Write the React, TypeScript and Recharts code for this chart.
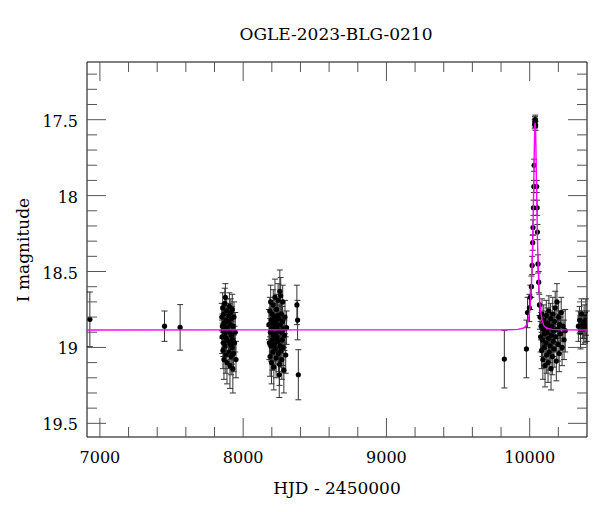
import React from 'react';
import { ScatterChart, Scatter, XAxis, YAxis, ErrorBar } from 'recharts';

// [HJD - 2450000, I mag, error]
type Obs = [number, number, number];

const season2014: Obs[] = [[6930, 18.815, 0.18]];

const season2016: Obs[] = [
  [7451, 18.86, 0.1],
  [7560, 18.868, 0.15],
];

const season2017: Obs[] = [
  [7851, 18.8, 0.09], [7853, 18.93, 0.11], [7855, 18.86, 0.08], [7857, 18.74, 0.1],
  [7859, 19.02, 0.12], [7861, 18.89, 0.08], [7862, 18.97, 0.09], [7864, 18.78, 0.07],
  [7866, 19.08, 0.13], [7868, 18.84, 0.08], [7870, 18.91, 0.09], [7872, 18.71, 0.1],
  [7874, 18.99, 0.1], [7876, 18.67, 0.09], [7877, 18.88, 0.08], [7879, 19.05, 0.12],
  [7881, 18.82, 0.08], [7883, 18.94, 0.09], [7885, 18.76, 0.08], [7887, 19.1, 0.14],
  [7889, 18.87, 0.07], [7896, 18.83, 0.09], [7898, 18.96, 0.1], [7900, 18.79, 0.08],
  [7902, 19.03, 0.11], [7904, 18.73, 0.09], [7906, 18.9, 0.08], [7908, 19.12, 0.15],
  [7910, 18.85, 0.08], [7912, 18.98, 0.1], [7914, 18.77, 0.09], [7916, 19.06, 0.12],
  [7918, 18.92, 0.09], [7920, 18.81, 0.08], [7922, 19.0, 0.11], [7924, 18.75, 0.1],
  [7926, 18.95, 0.09], [7928, 19.14, 0.16], [7930, 18.86, 0.08], [7933, 19.04, 0.12],
  [7936, 18.8, 0.1], [7940, 18.97, 0.11], [7945, 18.9, 0.13], [7950, 19.08, 0.12],
];

const season2018: Obs[] = [
  [8180, 18.85, 0.1], [8183, 18.97, 0.11], [8186, 18.76, 0.09], [8188, 19.06, 0.13],
  [8190, 18.9, 0.09], [8192, 18.7, 0.11], [8194, 18.99, 0.1], [8196, 18.82, 0.08],
  [8198, 19.1, 0.14], [8200, 18.88, 0.09], [8202, 18.78, 0.09], [8204, 18.95, 0.1],
  [8206, 19.03, 0.12], [8208, 18.84, 0.08], [8210, 18.72, 0.1], [8212, 18.92, 0.09],
  [8214, 19.13, 0.15], [8216, 18.8, 0.09], [8218, 18.98, 0.11], [8220, 18.87, 0.08],
  [8222, 18.67, 0.12], [8224, 19.01, 0.1], [8226, 18.91, 0.09], [8228, 18.83, 0.08],
  [8230, 19.07, 0.13], [8232, 18.75, 0.1], [8234, 18.94, 0.09], [8236, 18.86, 0.08],
  [8238, 18.93, 0.1], [8240, 18.79, 0.09], [8242, 18.96, 0.1], [8244, 18.69, 0.11],
  [8246, 19.04, 0.12], [8248, 18.89, 0.08], [8250, 18.81, 0.09], [8252, 19.18, 0.15],
  [8254, 19.11, 0.14], [8256, 18.63, 0.14], [8258, 18.99, 0.1], [8260, 18.85, 0.09],
  [8262, 18.66, 0.12], [8264, 19.02, 0.11], [8266, 18.9, 0.08], [8268, 18.78, 0.09],
  [8270, 19.08, 0.13], [8272, 18.95, 0.09], [8274, 18.83, 0.1], [8276, 18.7, 0.11],
  [8278, 19.0, 0.12], [8280, 18.88, 0.09], [8284, 19.15, 0.15], [8288, 18.92, 0.1],
  [8292, 18.8, 0.11], [8297, 19.05, 0.12], [8303, 18.87, 0.11],
  [8375, 18.72, 0.13], [8380, 18.82, 0.13], [8385, 19.18, 0.165],
];

const season2022: Obs[] = [[9823, 19.077, 0.19]];

const season2023: Obs[] = [
  [9977, 19.01, 0.19], [9985, 18.77, 0.1], [9998, 18.74, 0.09], [10004, 18.67, 0.08],
  [10012, 18.6, 0.07], [10017, 18.46, 0.06], [10021, 18.31, 0.05], [10023, 18.21, 0.05],
  [10026, 18.08, 0.05], [10029, 17.94, 0.04], [10031, 17.8, 0.04],
  [10035, 17.53, 0.03], [10037, 17.51, 0.03], [10038, 17.52, 0.03], [10039, 17.5, 0.03],
  [10041, 17.54, 0.03],
  [10049, 17.94, 0.04], [10052, 18.08, 0.05], [10054, 18.24, 0.05], [10058, 18.45, 0.06],
  [10063, 18.57, 0.07], [10068, 18.72, 0.07], [10072, 18.8, 0.08], [10076, 18.93, 0.1],
  [10080, 18.86, 0.09], [10083, 19.02, 0.12], [10086, 18.78, 0.1], [10089, 18.95, 0.11],
  [10092, 19.08, 0.13], [10095, 18.88, 0.09], [10098, 18.82, 0.1], [10101, 19.0, 0.12],
  [10104, 18.91, 0.1], [10107, 19.12, 0.14], [10110, 18.85, 0.09], [10113, 18.97, 0.11],
  [10116, 18.79, 0.1], [10119, 19.05, 0.12], [10122, 18.9, 0.09], [10125, 18.84, 0.1],
  [10128, 19.1, 0.13], [10131, 18.94, 0.11], [10134, 18.76, 0.1], [10137, 19.03, 0.12],
  [10140, 18.87, 0.09], [10143, 18.99, 0.11], [10146, 18.81, 0.1], [10149, 19.14, 0.14],
  [10152, 18.92, 0.1], [10155, 18.86, 0.09], [10158, 19.06, 0.12], [10161, 18.78, 0.11],
  [10164, 18.96, 0.1], [10167, 18.89, 0.09], [10170, 19.01, 0.12], [10174, 18.83, 0.1],
  [10178, 18.74, 0.11], [10182, 18.93, 0.1], [10186, 19.09, 0.13], [10190, 18.7, 0.12],
  [10194, 18.88, 0.1], [10198, 18.98, 0.11], [10202, 18.8, 0.1], [10206, 19.04, 0.12],
  [10210, 18.85, 0.09], [10215, 18.91, 0.11], [10220, 18.77, 0.1], [10226, 19.0, 0.12],
  [10232, 18.86, 0.1], [10240, 18.95, 0.13], [10248, 18.89, 0.14],
  [10340, 18.86, 0.1], [10348, 18.82, 0.09], [10355, 18.9, 0.11], [10362, 18.78, 0.1],
  [10368, 18.85, 0.09], [10374, 18.88, 0.1], [10380, 18.83, 0.11], [10386, 18.87, 0.1],
  [10392, 18.8, 0.12], [10398, 18.86, 0.1],
];

// model light curve
const modelT = [
  6910, 9838, 9918, 9958, 9978, 9990, 10000, 10008, 10013, 10018, 10022, 10025, 10028,
  10030, 10032, 10034, 10036, 10038, 10040, 10042, 10044, 10046, 10048, 10051, 10054,
  10058, 10063, 10068, 10076, 10086, 10098, 10118, 10158, 10238, 10400,
];
const modelMag = [
  18.885, 18.884, 18.881, 18.872, 18.855, 18.82, 18.76, 18.67, 18.57, 18.43, 18.27, 18.12, 17.95,
  17.83, 17.71, 17.61, 17.54, 17.52, 17.54, 17.61, 17.71, 17.83, 17.95, 18.12, 18.27,
  18.43, 18.57, 18.67, 18.76, 18.82, 18.855, 18.872, 18.881, 18.884, 18.885,
];

const xTicks = [
  7000, 7200, 7400, 7600, 7800, 8000, 8200, 8400, 8600, 8800, 9000,
  9200, 9400, 9600, 9800, 10000, 10200,
];
const xLabels = [7000, 8000, 9000, 10000];
const yTicks = [
  17.2, 17.3, 17.4, 17.5, 17.6, 17.7, 17.8, 17.9, 18, 18.1, 18.2, 18.3,
  18.4, 18.5, 18.6, 18.7, 18.8, 18.9, 19, 19.1, 19.2, 19.3, 19.4, 19.5,
];
const yLabels = [17.5, 18, 18.5, 19, 19.5];

const observations = [
  ...season2014, ...season2016, ...season2017, ...season2018, ...season2022, ...season2023,
].map(([t, mag, err]) => ({ t, mag, err }));
const model = modelT.map((t, i) => ({ t, mag: modelMag[i] }));

const FONT = '"DejaVu Serif", serif';
const TICK = '#555';
const MAJOR = 19;
const MINOR = 10;

const isMajor = (list: number[], v: number) => list.some(l => Math.abs(l - v) < 1e-6);

const LeftTick = ({ x, y, payload }: any) => {
  const major = isMajor(yLabels, payload.value);
  return (
    <g>
      <line x1={x} x2={x + (major ? MAJOR : MINOR)} y1={y} y2={y} stroke={TICK} />
      {major && (
        <text x={x - 9} y={y + 7} textAnchor="end" fontSize={16} fontFamily={FONT} fill="#000">
          {payload.value}
        </text>
      )}
    </g>
  );
};

const RightTick = ({ x, y, payload }: any) => {
  const major = isMajor(yLabels, payload.value);
  return <line x1={x} x2={x - (major ? MAJOR : MINOR)} y1={y} y2={y} stroke={TICK} />;
};

const BottomTick = ({ x, y, payload }: any) => {
  const major = isMajor(xLabels, payload.value);
  return (
    <g>
      <line x1={x} x2={x} y1={y} y2={y - (major ? MAJOR : MINOR)} stroke={TICK} />
      {major && (
        <text x={x} y={y + 26} textAnchor="middle" fontSize={16} fontFamily={FONT} fill="#000">
          {payload.value}
        </text>
      )}
    </g>
  );
};

const TopTick = ({ x, y, payload }: any) => {
  const major = isMajor(xLabels, payload.value);
  return <line x1={x} x2={x} y1={y} y2={y + (major ? MAJOR : MINOR)} stroke={TICK} />;
};

const Dot = (p: any) => <circle cx={p.cx} cy={p.cy} r={2.6} fill="#000" />;

export default function App() {
  const xDomain = [6910, 10400];
  const yDomain = [17.12, 19.59];
  return (
    <div style={{ position: 'absolute', left: 0, top: 0, width: 600, height: 512, background: '#fff' }}>
      <ScatterChart width={600} height={512} margin={{ top: 61, right: 12, bottom: 74, left: 86 }}>
        <XAxis
          xAxisId={0} dataKey="t" type="number" domain={xDomain} allowDataOverflow
          ticks={xTicks} interval={0} height={1} tickSize={0} tickMargin={0}
          tickLine={false} axisLine={{ stroke: '#000' }} tick={<BottomTick />}
        />
        <XAxis
          xAxisId="top" orientation="top" dataKey="t" type="number" domain={xDomain} allowDataOverflow
          ticks={xTicks} interval={0} height={1} tickSize={0} tickMargin={0}
          tickLine={false} axisLine={{ stroke: '#000' }} tick={<TopTick />}
        />
        <YAxis
          yAxisId={0} dataKey="mag" type="number" domain={yDomain} allowDataOverflow reversed
          ticks={yTicks} interval={0} width={1} tickSize={0} tickMargin={0}
          tickLine={false} axisLine={{ stroke: '#000' }} tick={<LeftTick />}
        />
        <YAxis
          yAxisId="right" orientation="right" dataKey="mag" type="number" domain={yDomain} allowDataOverflow reversed
          ticks={yTicks} interval={0} width={1} tickSize={0} tickMargin={0}
          tickLine={false} axisLine={{ stroke: '#000' }} tick={<RightTick />}
        />
        <Scatter data={observations} shape={<Dot />} isAnimationActive={false}>
          <ErrorBar dataKey="err" direction="y" width={3} stroke="#333" strokeWidth={1} isAnimationActive={false} />
        </Scatter>
        <Scatter
          data={model}
          line={{ stroke: '#ff00ff', strokeWidth: 1.4 }}
          shape={() => <g />}
          isAnimationActive={false}
        />
      </ScatterChart>
      <svg width={600} height={512} style={{ position: 'absolute', left: 0, top: 0, pointerEvents: 'none' }}>
        <text x={336} y={40} textAnchor="middle" fontSize={17} fontFamily={FONT} fill="#000">
          OGLE-2023-BLG-0210
        </text>
        <text x={337} y={494} textAnchor="middle" fontSize={17} fontFamily={FONT} fill="#000">
          HJD - 2450000
        </text>
        <text transform="translate(29,250) rotate(-90)" textAnchor="middle" fontSize={17} fontFamily={FONT} fill="#000">
          I magnitude
        </text>
      </svg>
    </div>
  );
}
